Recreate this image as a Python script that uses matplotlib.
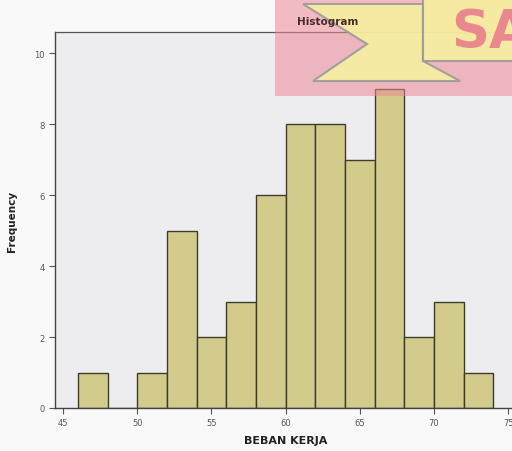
import matplotlib
matplotlib.use("Agg")
import matplotlib.pyplot as plt
from matplotlib.patches import Rectangle, Polygon
import numpy as np

# Data
bin_edges = [46, 48, 50, 52, 54, 56, 58, 60, 62, 64, 66, 68, 70, 72, 74]
frequencies = [1, 0, 1, 5, 2, 3, 6, 8, 8, 7, 9, 2, 3, 1]
x_ticks = [45, 50, 55, 60, 65, 70, 75]
y_ticks = [0, 2, 4, 6, 8, 10]
title = "Histogram"
x_label = "BEBAN KERJA"
y_label = "Frequency"

W, H = 512, 452
fig = plt.figure(figsize=(W / 100, H / 100), dpi=100)
fig.patch.set_facecolor("#f9f9f9")

ax = fig.add_axes([55 / W, (H - 409) / H, 1 - 55 / W + 0.01, (409 - 33) / H])
ax.set_facecolor("#ededef")

lefts = np.array(bin_edges[:-1])
widths = np.diff(bin_edges)
ax.bar(lefts, frequencies, width=widths, align="edge",
       color="#d3cb8c", edgecolor="#3c3c28", linewidth=1.0, zorder=2)

ax.set_xlim(44.46, 75.6)
ax.set_ylim(0, 10.6)
ax.set_xticks(x_ticks)
ax.set_yticks(y_ticks)
ax.tick_params(axis="both", labelsize=6, colors="#555555", length=4, width=0.8,
               direction="out")
ax.tick_params(axis="x", pad=3)
for s in ["left", "bottom"]:
    ax.spines[s].set_color("#444444")
    ax.spines[s].set_linewidth(1.0)
ax.spines["top"].set_color("#555555")
ax.spines["top"].set_linewidth(0.9)
ax.spines["right"].set_visible(False)

ax.set_xlabel(x_label, fontsize=8, fontweight="bold", color="#222222", labelpad=6)
ax.set_ylabel(y_label, fontsize=7.5, fontweight="bold", color="#222222", labelpad=12)

# Watermark overlay (decorative)
ov = fig.add_axes([0, 0, 1, 1], facecolor="none")
ov.set_xlim(0, W)
ov.set_ylim(H, 0)
ov.axis("off")
ov.add_patch(Rectangle((275, -2), 240, 99, facecolor="#ee8896", alpha=0.55,
                       edgecolor="none", zorder=1))
arrow = Polygon([(303, 5), (423, 5), (423, 62), (460, 82), (313, 82), (367, 45)],
                closed=True, facecolor="#f7f0a0", edgecolor="#9a9a9a",
                linewidth=1.5, alpha=0.9, zorder=2)
ov.add_patch(arrow)
ov.add_patch(Rectangle((423, -2), 95, 64, facecolor="#f7f0a0", edgecolor="#9a9a9a",
                       linewidth=1.5, alpha=0.9, zorder=3))
ov.text(451, 48, "SA", fontsize=38, fontweight="bold", color="#e8788a",
        alpha=0.85, ha="left", va="baseline", zorder=4)
ov.text(297, 22, title, fontsize=7.5, fontweight="bold", color="#4a2a2a",
        ha="left", va="center", zorder=5)

fig.savefig("out.png", dpi=100, facecolor=fig.get_facecolor())
